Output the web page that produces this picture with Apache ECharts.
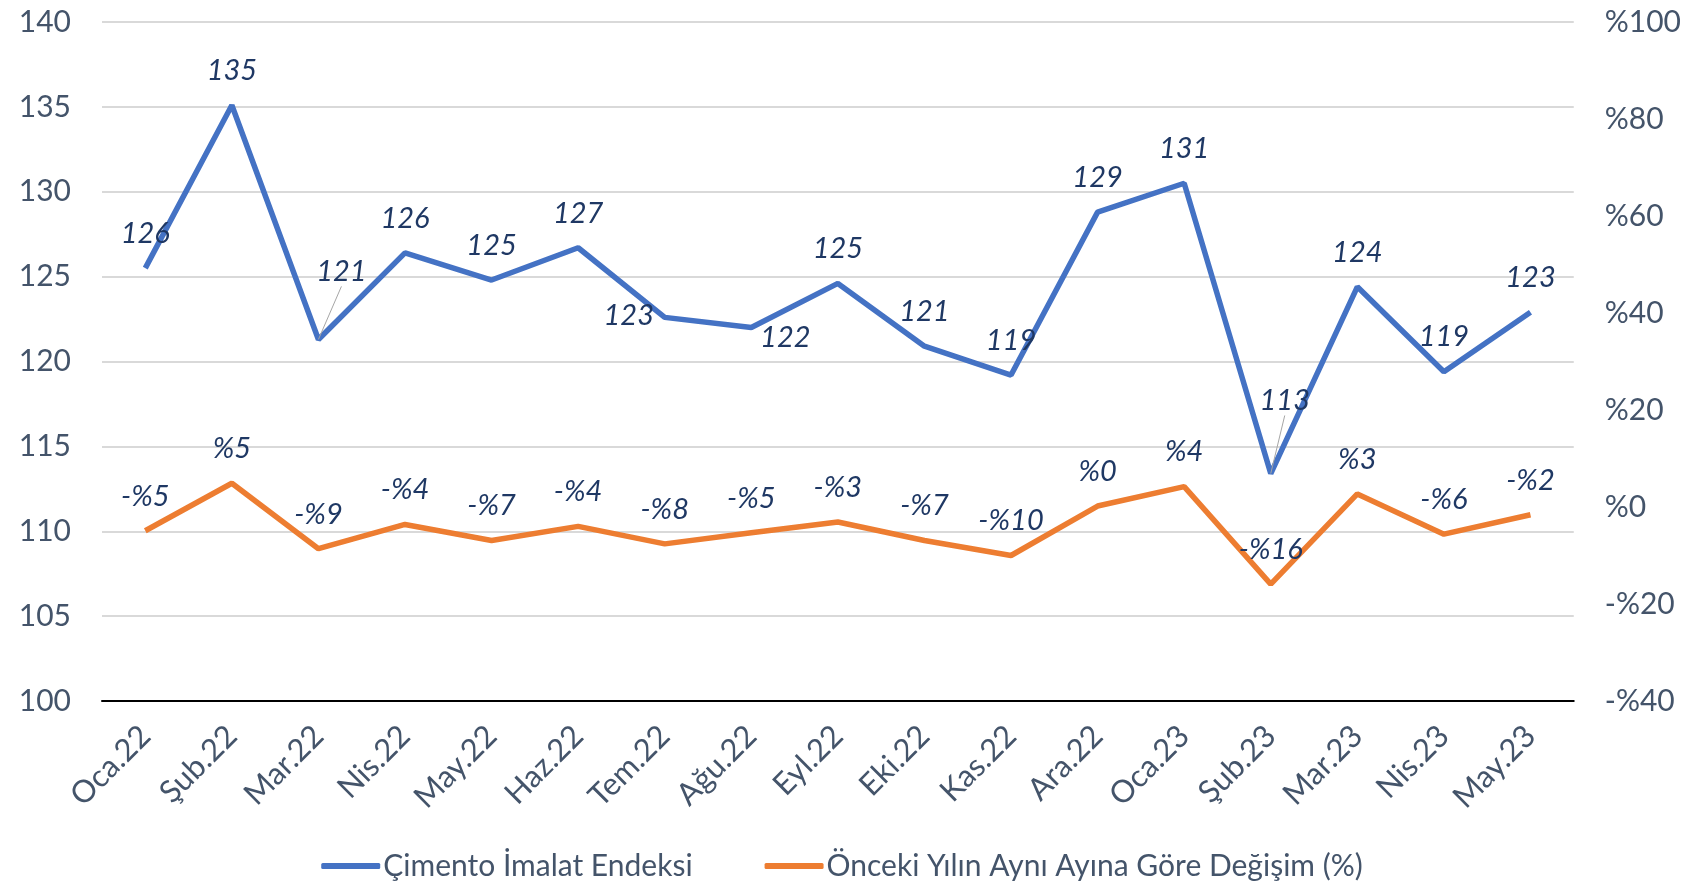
<!DOCTYPE html>
<html>
<head>
<meta charset="utf-8">
<script src="https://cdn.jsdelivr.net/npm/echarts@6/dist/echarts.min.js"></script>
<style>
html,body{margin:0;padding:0;background:#fff;}
#chart{width:1684px;height:887px;}
</style>
</head>
<body>
<div id="chart"></div>
<script>
const categories = ['Oca.22','Şub.22','Mar.22','Nis.22','May.22','Haz.22','Tem.22','Ağu.22','Eyl.22','Eki.22','Kas.22','Ara.22','Oca.23','Şub.23','Mar.23','Nis.23','May.23'];
const indexValues = [125.5,135.1,121.3,126.4,124.8,126.7,122.6,122.0,124.6,120.9,119.2,128.8,130.5,113.4,124.4,119.4,122.9];
const changeValues = [-4.9,4.9,-8.6,-3.6,-6.9,-4.0,-7.6,-5.3,-3.1,-6.9,-10.0,0.2,4.2,-15.9,2.7,-5.6,-1.6];
const seriesNames = ['Çimento İmalat Endeksi','Önceki Yılın Aynı Ayına Göre Değişim (%)'];
const leftTicks = {min:100, max:140, interval:5};
const rightTicks = {min:-40, max:100, interval:20};

const FONT = 'Lato';
const pct = v => (v < 0 ? '-%' + Math.abs(Math.round(v)) : '%' + Math.round(v));

// label adjustments (Excel-like smart label placement)
const blueMoves = {2:{dx:23,dy:-33,line:true}, 6:{dx:-36,dy:33}, 7:{dx:34,dy:45}, 13:{dx:14,dy:-38,line:true}};

const blueData = indexValues.map((v,i)=>{
  const m = blueMoves[i];
  return m && m.line ? {value:v, labelLine:{show:true}} : {value:v};
});

const labelStyle = {
  show:true, position:'top', distance:20,
  fontFamily:FONT, fontStyle:'italic', fontSize:29, color:'#1F3864'
};

const chart = echarts.init(document.getElementById('chart'));
chart.setOption({
  animation:false,
  backgroundColor:'#fff',
  textStyle:{fontFamily:FONT},
  grid:{left:102, right:107, top:22, bottom:186},
  legend:{
    bottom:1, left:'center',
    itemWidth:59, itemHeight:6, itemGap:72,
    icon:'roundRect',
    textStyle:{fontFamily:FONT, fontSize:30, color:'#44546A', padding:[0,0,0,-2]},
    data:seriesNames
  },
  xAxis:{
    type:'category', data:categories, boundaryGap:true,
    axisLine:{onZero:false, lineStyle:{color:'#000', width:2}},
    axisTick:{show:false},
    axisLabel:{rotate:45, margin:30, fontFamily:FONT, fontSize:31, color:'#44546A', interval:0}
  },
  yAxis:[
    {type:'value', min:leftTicks.min, max:leftTicks.max, interval:leftTicks.interval,
     axisLine:{show:false}, axisTick:{show:false},
     splitLine:{lineStyle:{color:'#D9D9D9', width:2}},
     axisLabel:{margin:31, fontFamily:FONT, fontSize:30, color:'#44546A'}},
    {type:'value', min:rightTicks.min, max:rightTicks.max, interval:rightTicks.interval,
     axisLine:{show:false}, axisTick:{show:false}, splitLine:{show:false},
     axisLabel:{margin:31, fontFamily:FONT, fontSize:30, color:'#44546A', formatter:pct}}
  ],
  series:[
    {name:seriesNames[0], type:'line', yAxisIndex:0, data:blueData,
     symbol:'circle', symbolSize:0.1, showSymbol:true,
     lineStyle:{color:'#4472C4', width:5.5}, itemStyle:{color:'#4472C4'},
     label:Object.assign({}, labelStyle, {formatter:p=>String(Math.round(p.value))}),
     labelLine:{show:false, lineStyle:{color:'#A6A6A6', width:1}},
     labelLayout:function(p){
       const m = blueMoves[p.dataIndex];
       return m ? {dx:m.dx, dy:m.dy} : {};
     }
    },
    {name:seriesNames[1], type:'line', yAxisIndex:1, data:changeValues,
     symbol:'circle', symbolSize:0.1, showSymbol:true,
     lineStyle:{color:'#ED7D31', width:5.5}, itemStyle:{color:'#ED7D31'},
     label:Object.assign({}, labelStyle, {formatter:p=>pct(p.value)})
    }
  ]
});
</script>
</body>
</html>
